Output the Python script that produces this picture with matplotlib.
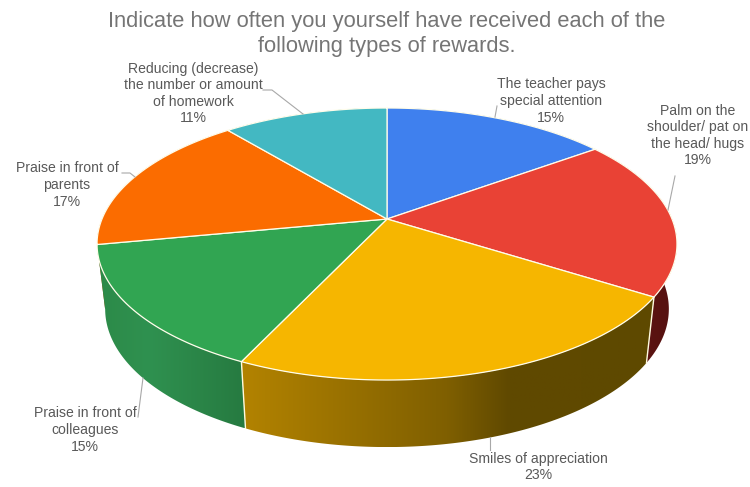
#!/usr/bin/env python3
"""3D-look pie of reward types, drawn with a small perspective projection."""

import numpy as np
import matplotlib
matplotlib.use("Agg")
import matplotlib.pyplot as plt
from matplotlib.colors import LinearSegmentedColormap
from matplotlib.patches import Polygon

plt.rcParams["font.family"] = ["Liberation Sans", "DejaVu Sans"]

labels = [
    "The teacher pays\nspecial attention",
    "Palm on the\nshoulder/ pat on\nthe head/ hugs",
    "Smiles of appreciation",
    "Praise in front of\ncolleagues",
    "Praise in front of\nparents",
    "Reducing (decrease)\nthe number or amount\nof homework",
]
shares = [15, 19, 23, 15, 17, 11]

top_colors = ["#3F80EE", "#E94235", "#F6B600", "#31A552", "#FB6C00", "#43B8C2"]

# side wall shading, left to right across the slice
wall_stops = [
    [(0.0, "#1F4A8C"), (1.0, "#1F4A8C")],
    [(0.0, "#6A1A14"), (1.0, "#541010")],
    [(0.0, "#B38300"), (0.5, "#7F5F00"), (0.65, "#604900"), (1.0, "#5E4900")],
    [(0.0, "#2C8A48"), (0.35, "#2F9150"), (1.0, "#267A40")],
    [(0.0, "#A84800"), (1.0, "#A84800")],
    [(0.0, "#2A7A80"), (1.0, "#2A7A80")],
]

# text anchor, then leader line points
label_xy = [(551, 101), (698, 135.5), (538, 467), (85, 430), (67, 185), (193, 93.5)]
leaders = [
    [(497, 106), (495, 117)],
    [(675, 176), (668, 210)],
    [(490, 437), (490, 450)],
    [(143, 378), (138, 417)],
    [(122, 173), (130, 173), (135, 177)],
    [(263, 90), (272, 90), (303, 114)],
]

# projection of the disc
CX, APEX_Y = 387, 219
TILT = 0.184
A, B = 285, 131.4
# lower rim of the disc
TOP_ELLIPSE_Y = 244
RIM_SCALE_X, RIM_SCALE_Y = 0.972, 1.015
RIM_Y = 309


def top_point(theta):
    """theta in radians, clockwise from 12 o'clock"""
    u, v = np.sin(theta), np.cos(theta)
    d = 1 + TILT * v
    return CX + A * u / d, APEX_Y - B * v / d


def rim_point(theta):
    x, y = top_point(theta)
    return CX + (x - CX) * RIM_SCALE_X, RIM_Y + (y - TOP_ELLIPSE_Y) * RIM_SCALE_Y


fig = plt.figure(figsize=(7.5, 4.87), dpi=100)
ax = fig.add_axes([0, 0, 1, 1])
ax.set_xlim(0, 750)
ax.set_ylim(487, 0)
ax.axis("off")

edges = np.cumsum([0] + shares) / sum(shares) * 2 * np.pi

# walls first, back slices before the front ones
for i in [0, 4, 5, 1, 3, 2]:
    th = np.linspace(edges[i], edges[i + 1], 200)
    tx, ty = top_point(th)
    bx, by = rim_point(th)
    pts = np.column_stack([np.r_[tx, bx[::-1]], np.r_[ty, by[::-1]]])
    poly = Polygon(pts, closed=True, fc="none", ec="none", zorder=2)
    ax.add_patch(poly)
    cmap = LinearSegmentedColormap.from_list(f"wall{i}", wall_stops[i])
    grad = np.linspace(0, 1, 256)[None, :]
    x0, x1 = pts[:, 0].min(), pts[:, 0].max()
    y0, y1 = pts[:, 1].min(), pts[:, 1].max()
    im = ax.imshow(grad, cmap=cmap, extent=[x0, x1, y1, y0], aspect="auto", zorder=2)
    im.set_clip_path(poly)
ax.set_xlim(0, 750)
ax.set_ylim(487, 0)

# separators on the visible wall
for i in [2, 3]:
    tx, ty = top_point(edges[i])
    bx, by = rim_point(edges[i])
    ax.plot([tx, bx], [ty, by], color="#FFFBE0", lw=1.0, zorder=3)

# top face
for i in range(len(shares)):
    th = np.linspace(edges[i], edges[i + 1], 200)
    tx, ty = top_point(th)
    pts = np.column_stack([np.r_[CX, tx], np.r_[APEX_Y, ty]])
    ax.add_patch(Polygon(pts, closed=True, fc=top_colors[i], ec="#FFFDEB", lw=0.9, zorder=4))

for i, (x, y) in enumerate(label_xy):
    ax.text(x, y, f"{labels[i]}\n{shares[i]}%", ha="center", va="center", fontsize=10.1,
            color="#595959", linespacing=1.23, zorder=6)
    xs, ys = zip(*leaders[i])
    ax.plot(xs, ys, color="#A8A8A8", lw=0.8, zorder=5)

ax.text(387, 34, "Indicate how often you yourself have received each of the\n"
        "following types of rewards.", ha="center", va="center", fontsize=15.75,
        color="#757575", linespacing=1.25, zorder=6)

fig.savefig("out.png", dpi=100)
